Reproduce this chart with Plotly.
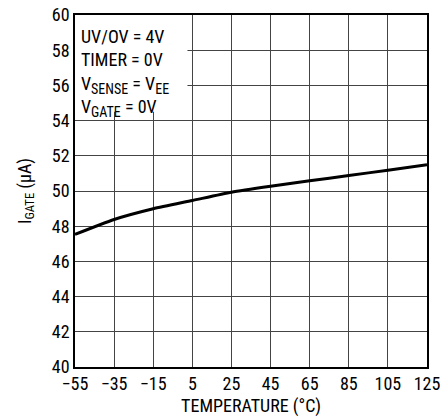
import plotly.graph_objects as go

# temperature sweep (°C) and gate current (µA)
temp_c = [-55, -35, -15, 5, 25, 45, 65, 85, 105, 125]
igate_ua = [47.53, 48.38, 48.99, 49.46, 49.93, 50.27, 50.58, 50.88, 51.18, 51.49]

x_ticks = [-55, -35, -15, 5, 25, 45, 65, 85, 105, 125]
y_ticks = list(range(40, 61, 2))

SUB = '<sub><span style="font-size:14px">{}</span></sub>'
conditions = [
    "UV/OV = 4V",
    "TIMER = 0V",
    "V" + SUB.format("SENSE") + " = V" + SUB.format("EE"),
    "V" + SUB.format("GATE") + " = 0V",
]

FONT = "Liberation Sans Narrow, Arial Narrow, Roboto Condensed, sans-serif"

fig = go.Figure()
fig.add_trace(go.Scatter(
    x=temp_c, y=igate_ua, mode="lines",
    line=dict(color="black", width=3, shape="spline", smoothing=0.6),
    showlegend=False,
))

# white box behind the test conditions, hides the grid there
fig.add_shape(type="rect", xref="x", yref="y", x0=-55, x1=2.5, y0=54.5, y1=60,
              fillcolor="white", line_width=0, layer="between")
fig.add_annotation(
    xref="x", yref="y", x=-53, y=59.5, xanchor="left", yanchor="top",
    text="<br>".join(conditions), showarrow=False, align="left",
    font=dict(family=FONT, size=18, color="black"),
)

axis_common = dict(
    showgrid=True, gridcolor="#444", gridwidth=1,
    showline=True, linecolor="black", linewidth=1.5, mirror=True,
    ticks="", zeroline=False, automargin=False,
    tickfont=dict(family=FONT, size=18, color="black"),
)

fig.update_layout(
    width=443, height=419,
    margin=dict(l=75, r=16, t=15, b=52),
    plot_bgcolor="white", paper_bgcolor="white",
    font=dict(family=FONT, size=18, color="black"),
    xaxis=dict(range=[-55, 125], tickvals=x_ticks,
               title=dict(text="TEMPERATURE (°C)", standoff=6,
                          font=dict(family=FONT, size=18)),
               **axis_common),
    yaxis=dict(range=[40, 60], tickvals=y_ticks,
               title=dict(text="I<sub>GATE</sub> (µA)", standoff=16,
                          font=dict(family=FONT, size=18)),
               **axis_common),
)

fig.write_html("out.html", config={"displayModeBar": False},
               post_script="document.body.style.margin='0';")
